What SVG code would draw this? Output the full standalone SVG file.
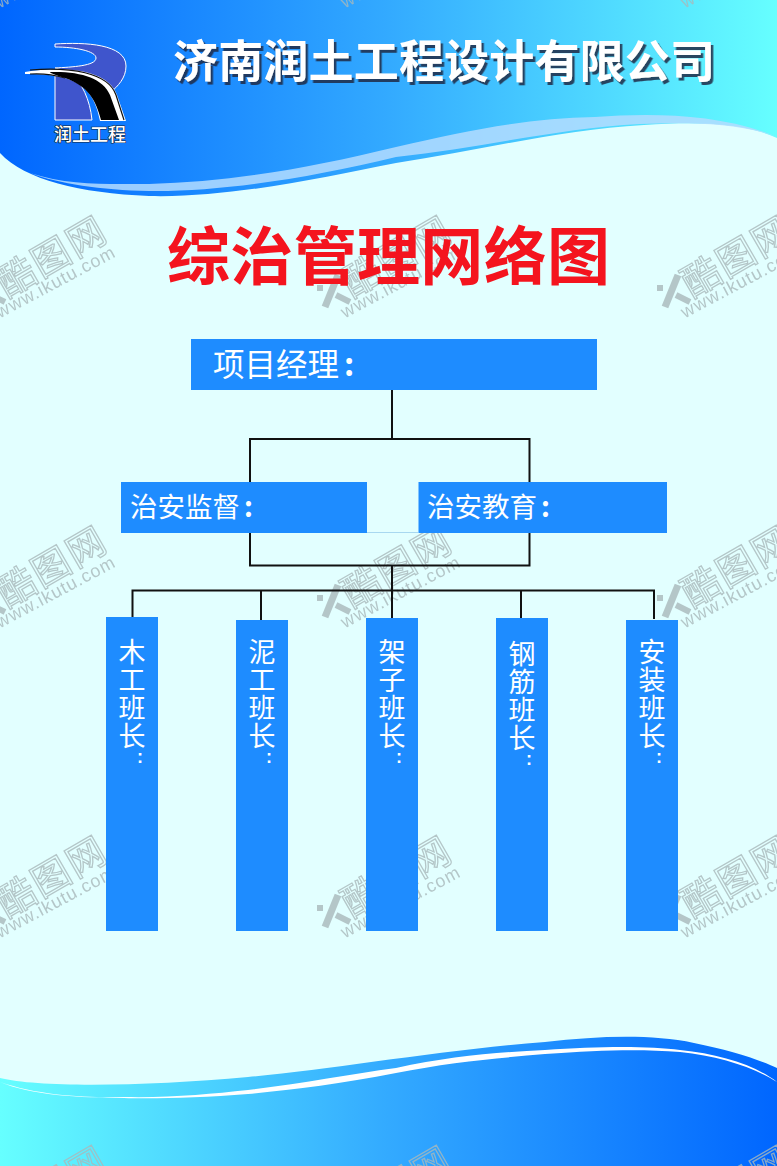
<svg xmlns="http://www.w3.org/2000/svg" xmlns:xlink="http://www.w3.org/1999/xlink" width="777" height="1166" viewBox="0 0 777 1166">
<defs>
<linearGradient id="gh" x1="0" x2="1" y1="0" y2="0"><stop offset="0" stop-color="#0066ff"/><stop offset=".5" stop-color="#33aaff"/><stop offset="1" stop-color="#66ffff"/></linearGradient>
<linearGradient id="gf" x1="0" x2="1" y1="0" y2="0"><stop offset="0" stop-color="#66ffff"/><stop offset=".5" stop-color="#33aaff"/><stop offset="1" stop-color="#0066ff"/></linearGradient>
<filter id="sh" x="-5%" y="-20%" width="110%" height="140%"><feDropShadow dx="2.500" dy="3" stdDeviation=".5" flood-color="#1a2a44" flood-opacity=".85"/></filter>
<g id="wm" opacity=".8">
<text class="wmc" transform="rotate(-30)" x="-98" y="13">酷图网</text>
<text class="wmu" transform="rotate(-28)" x="-113" y="31" textLength="132">www.ikutu.com</text>
<path d="M-92 37L-105 69" fill="none" stroke="#a9b9bb" stroke-width="7"/>
<path d="M-94 57L-80 64" fill="none" stroke="#a9b9bb" stroke-width="6"/>
<rect x="-113" y="47" width="6" height="6" fill="#a9b9bb"/>
</g>
<style>
.n{fill:#1e8cff}
.l{fill:none;stroke:#111;stroke-width:2}
text{font-family:"Noto Sans CJK SC","Liberation Sans",sans-serif}
.t{fill:#fff;font-size:27.5px}
.v{fill:#fff;font-size:27px;writing-mode:vertical-rl;letter-spacing:1px}
.c{fill:#fff;font-size:18px;font-weight:700;font-family:"Liberation Sans",sans-serif;text-anchor:middle}
.wmc{fill:none;stroke:#a9b9bb;stroke-width:1.300;font-size:38px;letter-spacing:2px}
.wmu{fill:#a9b9bb;font-size:18px;font-family:"Liberation Sans",sans-serif}
</style>
</defs>
<rect id="background" width="777" height="1166" fill="#e2ffff"/>
<g id="header-shape">
<path d="M0 0H777V138C745 123 700 121 644 125C560 130 480 150 396 163C320 178 230 198 149 196C80 193 25 180 0 153Z" fill="url(#gh)"/>
<path d="M30 173C70 186 110 184 149 184C230 182 310 168 396 147C470 130 530 118 595 117C650 113 720 113 777 137C740 123 690 122 640 124C560 128 480 148 396 157C310 178 220 192 149 191C100 190 60 184 30 173Z" fill="#b4dcff" opacity=".85"/>
</g>
<g id="footer">
<path d="M0 1078C40 1088 150 1086 248 1077C330 1070 440 1050 545 1042C600 1036 650 1034 694 1043C730 1050 760 1060 777 1068V1166H0Z" fill="url(#gf)"/>
<path d="M0 1082C40 1096 90 1098 124 1097C170 1098 210 1094 248 1090C300 1084 350 1074 396 1068C450 1056 500 1052 545 1050C600 1046 650 1046 680 1050C720 1054 755 1065 777 1082C755 1068 720 1056 680 1052C640 1049 600 1050 545 1054C500 1058 450 1062 396 1073C340 1084 290 1090 248 1094C200 1098 150 1099 124 1098C80 1098 30 1095 0 1082Z" fill="#fff"/>
</g>
<g id="watermarks">
<use xlink:href="#wm" href="#wm" x="85" y="-72"/><use xlink:href="#wm" href="#wm" x="430" y="-72"/><use xlink:href="#wm" href="#wm" x="770" y="-72"/>
<use xlink:href="#wm" href="#wm" x="85" y="238"/><use xlink:href="#wm" href="#wm" x="430" y="238"/><use xlink:href="#wm" href="#wm" x="770" y="238"/>
<use xlink:href="#wm" href="#wm" x="85" y="548"/><use xlink:href="#wm" href="#wm" x="430" y="548"/><use xlink:href="#wm" href="#wm" x="770" y="548"/>
<use xlink:href="#wm" href="#wm" x="85" y="858"/><use xlink:href="#wm" href="#wm" x="430" y="858"/><use xlink:href="#wm" href="#wm" x="770" y="858"/>
<use xlink:href="#wm" href="#wm" x="85" y="1168"/><use xlink:href="#wm" href="#wm" x="430" y="1168"/><use xlink:href="#wm" href="#wm" x="770" y="1168"/>
</g>
<text id="company" x="173" y="78" font-size="45" font-weight="700" fill="#fff" textLength="542" filter="url(#sh)">济南润土工程设计有限公司</text>
<g id="logo">
<path d="M55 44C85 42 126 44 126 66C126 78 118 86 110 93L70 72L55 68C72 67 96 66 96 58C96 51 75 47 55 47Z" fill="#3f55cc" stroke="#fff" stroke-width="1"/>
<path d="M55 73H70C82 82 90 100 92 120H55Z" fill="#3f55cc" stroke="#fff" stroke-width="1"/>
<path d="M25 72C60 66 108 68 117 95L126 121H100C96 100 88 85 65 78C50 74 35 74 25 74Z" fill="#fff"/>
<path d="M50 72C80 71 103 78 110 95L119 120H101C96 100 88 86 65 78C55 75 50 73 50 72Z" fill="#000"/>
<path d="M30 70C70 67 108 72 116 95L124 120M30 74C45 73 55 75 65 78" fill="none" stroke="#111" stroke-width="1.200"/>
<text x="90" y="141" font-size="18" font-weight="500" fill="#fff" stroke="#123" stroke-width="1.200" paint-order="stroke" text-anchor="middle" textLength="72">润土工程</text>
</g>
<text id="title" x="167" y="279" font-size="63" font-weight="700" fill="#f4141e" textLength="443">综治管理网络图</text>
<g id="connectors">
<path class="l" d="M392 390V439M250 482V439H529.5V482M250 533V565.5H529.5V533M392 565.5V618M132.5 618V590.5H654V619M261 590.5V620M521 590.5V618"/>
<path d="M367 532.5H418" stroke="#a8d8f0" stroke-width="1" fill="none"/>
</g>
<g id="n-manager"><rect class="n" x="191" y="339" width="406" height="51"/><text class="t" x="213" y="376" style="font-size:31.500px">项目经理<tspan dx="5" font-weight="700">:</tspan></text></g>
<g id="n-supervise"><rect class="n" x="121" y="482" width="246" height="51"/><text class="t" x="130" y="517">治安监督<tspan dx="4" font-weight="700">:</tspan></text></g>
<g id="n-educate"><rect class="n" x="418.500" y="482" width="248.500" height="51"/><text class="t" x="427" y="517">治安教育<tspan dx="4" font-weight="700">:</tspan></text></g>
<g id="n-carpenter"><rect class="n" x="106" y="617" width="52" height="314"/><text class="v" x="132" y="638">木工班长</text><text class="c" x="140" y="763">:</text></g>
<g id="n-mason"><rect class="n" x="236" y="620" width="52" height="311"/><text class="v" x="262" y="638">泥工班长</text><text class="c" x="269" y="763">:</text></g>
<g id="n-scaffold"><rect class="n" x="366" y="618" width="52" height="313"/><text class="v" x="392" y="638">架子班长</text><text class="c" x="399" y="763">:</text></g>
<g id="n-rebar"><rect class="n" x="496" y="618" width="52" height="313"/><text class="v" x="522" y="640">钢筋班长</text><text class="c" x="529" y="765">:</text></g>
<g id="n-install"><rect class="n" x="626" y="620" width="52" height="311"/><text class="v" x="652" y="638">安装班长</text><text class="c" x="659" y="763">:</text></g>
</svg>
